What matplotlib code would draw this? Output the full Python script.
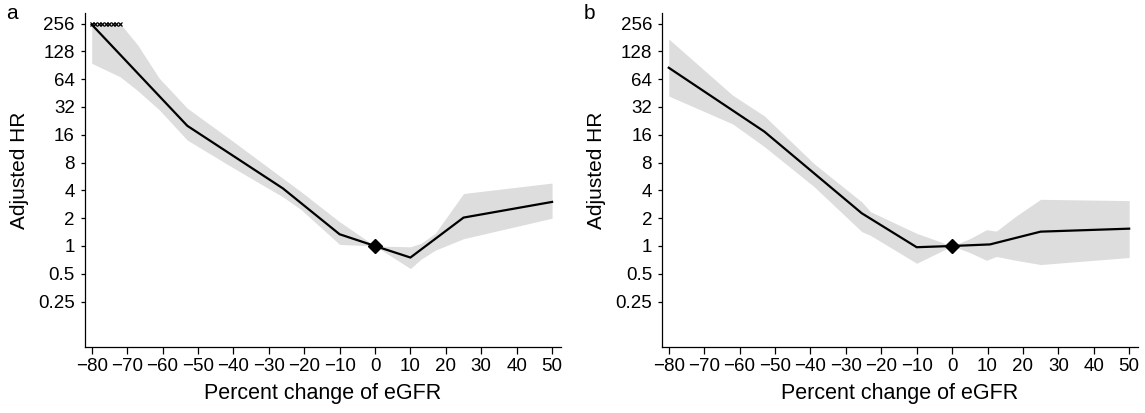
import matplotlib
matplotlib.use("Agg")
import matplotlib.pyplot as plt

plt.rcParams["font.family"] = ["Liberation Sans", "DejaVu Sans"]

# ---- data ----
Y_TICKS = [0.25, 0.5, 1, 2, 4, 8, 16, 32, 64, 128, 256]
Y_LABELS = ["0.25", "0.5", "1", "2", "4", "8", "16", "32", "64", "128", "256"]
X_TICKS = [-80, -70, -60, -50, -40, -30, -20, -10, 0, 10, 20, 30, 40, 50]
X_LABELS = ["\u221280", "\u221270", "\u221260", "\u221250", "\u221240", "\u221230",
            "\u221220", "\u221210", "0", "10", "20", "30", "40", "50"]

# panel a: fitted adjusted HR
line_x_a = [-80, -53, -26, -10, 0, 10, 25, 50]
line_y_a = [250, 20, 4.2, 1.34, 1.0, 0.75, 2.03, 3.0]
# panel a: confidence band
band_x_a = [-80, -72, -67, -61, -53, -40, -26, -21, -10, 0, 10, 13, 17, 25, 50]
band_lo_a = [95, 68, 48, 30, 14, 7.0, 3.4, 2.5, 1.04, 1.0, 0.57, 0.72, 0.9, 1.2, 2.0]
band_hi_a = [256, 256, 150, 66, 31, 13.5, 5.4, 3.9, 1.83, 1.0, 0.98, 1.07, 1.37, 3.7, 4.8]
# panel a: upper limit clipped at 256 (crosses)
clip_x_a = [-80, -79, -78, -77, -76, -75, -74, -73, -72]
clip_y_a = [256, 256, 256, 256, 256, 256, 256, 256, 256]

# panel b: fitted adjusted HR
line_x_b = [-80, -53, -25.5, -10, 0, 10.7, 25, 50]
line_y_b = [85, 17.3, 2.26, 0.97, 1.0, 1.04, 1.43, 1.54]
# panel b: confidence band
band_x_b = [-80, -62, -53, -39, -25.5, -23, -10, 0, 5, 9.7, 12.5, 18, 25, 50]
band_lo_b = [42, 21, 11.9, 4.4, 1.43, 1.3, 0.65, 1.0, 0.85, 0.7, 0.77, 0.7, 0.63, 0.75]
band_hi_b = [174, 43, 25.6, 7.8, 3.0, 2.35, 1.37, 1.0, 1.2, 1.5, 1.45, 2.1, 3.2, 3.1]

# reference point
ref_x = [0]
ref_y = [1]

BAND_COLOR = "#dcdddc"


def draw_panel(ax, letter, lx, ly, bx, blo, bhi):
    """Draw one adjusted-HR panel on a log2 axis."""
    ax.fill_between(bx, blo, bhi, color=BAND_COLOR, lw=0, zorder=1)
    ax.plot(lx, ly, color="black", lw=1.6, zorder=2)
    ax.plot(ref_x, ref_y, marker="D", ms=6.8, color="black", ls="none", zorder=3)

    ax.set_yscale("log", base=2)
    ax.set_ylim(0.0808, 331)
    ax.set_xlim(-81.9, 52.5)
    ax.set_yticks(Y_TICKS)
    ax.set_yticklabels(Y_LABELS)
    ax.minorticks_off()
    ax.set_xticks(X_TICKS)
    ax.set_xticklabels(X_LABELS)

    for side in ("top", "right"):
        ax.spines[side].set_visible(False)
    for side in ("left", "bottom"):
        ax.spines[side].set_linewidth(0.9)
    ax.tick_params(axis="y", length=3.2, width=0.9, pad=4, labelsize=13.5)
    ax.tick_params(axis="x", length=5, width=0.9, pad=3, labelsize=13.5)

    ax.set_ylabel("Adjusted HR", fontsize=15)
    ax.yaxis.set_label_coords(-0.117, 0.53)
    ax.set_xlabel("Percent change of eGFR", fontsize=15.5, labelpad=6)
    ax.text(-0.165, 1.0, letter, transform=ax.transAxes, fontsize=15,
            ha="left", va="center")


fig = plt.figure(figsize=(11.45, 4.13), dpi=100)
ax_a = fig.add_axes([0.0742, 0.16, 0.4157, 0.808])
ax_b = fig.add_axes([0.5782, 0.16, 0.4157, 0.808])

draw_panel(ax_a, "a", line_x_a, line_y_a, band_x_a, band_lo_a, band_hi_a)
# clipped upper CI marked with crosses at the top
ax_a.plot(clip_x_a, clip_y_a, marker="x", ms=3.5, mew=0.9, color="black",
          ls="none", zorder=3, clip_on=False)

draw_panel(ax_b, "b", line_x_b, line_y_b, band_x_b, band_lo_b, band_hi_b)

fig.savefig("out.png", dpi=100)
